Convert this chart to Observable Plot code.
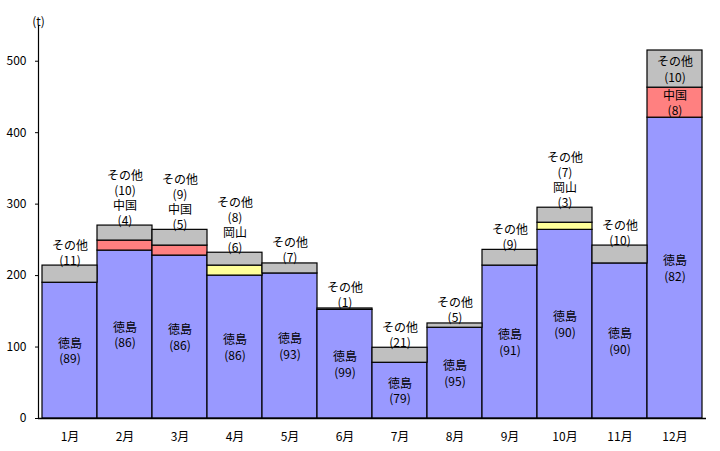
<!DOCTYPE html>
<html><head><meta charset="utf-8">
<script src="https://cdn.jsdelivr.net/npm/d3@7"></script>
<script src="https://cdn.jsdelivr.net/npm/@observablehq/plot@0.6"></script>
<style>
body{margin:0;background:#fff;}
svg{font-family:"Noto Sans CJK JP",sans-serif;}
</style>
</head><body><div id="chart"></div>
<script>
const months = ["1月","2月","3月","4月","5月","6月","7月","8月","9月","10月","11月","12月"];
const tokushima = [190, 235, 228, 200, 203, 152, 78, 127, 214, 264, 217, 421];
const okayama   = [0, 0, 0, 14, 0, 0, 0, 0, 0, 10, 0, 0];
const china     = [0, 14, 14, 0, 0, 0, 0, 0, 0, 0, 0, 42];
const other     = [24, 21, 22, 18, 14, 2, 21, 6, 22, 21, 25, 52];
const tokushimaPct = [89, 86, 86, 86, 93, 99, 79, 95, 91, 90, 90, 82];
const okayamaPct   = [null, null, null, 6, null, null, null, null, null, 3, null, null];
const chinaPct     = [null, 4, 5, null, null, null, null, null, null, null, null, 8];
const otherPct     = [11, 10, 9, 8, 7, 1, 21, 5, 9, 7, 10, 10];
const yTicks = [0, 100, 200, 300, 400, 500];

const seriesNames = ["徳島", "岡山", "中国", "その他"];
const seriesVals = [tokushima, okayama, china, other];
const seriesPct = [tokushimaPct, okayamaPct, chinaPct, otherPct];
const colors = ["#9999FF", "#FFFF99", "#FF8080", "#C0C0C0"];

const rows = [];
seriesNames.forEach((s, si) => {
  months.forEach((m, i) => {
    if (seriesVals[si][i] > 0) rows.push({month: m, series: s, value: seriesVals[si][i]});
  });
});

const insideLabels = [];
const aboveLabels = [];
months.forEach((m, i) => {
  let base = 0;
  const above = [];
  seriesNames.forEach((s, si) => {
    const v = seriesVals[si][i];
    const p = seriesPct[si][i];
    if (v > 0 && p != null) {
      const txt = s + "\n(" + p + ")";
      if (si === 0 || v >= 40) insideLabels.push({month: m, y: base + v / 2, text: txt});
      else above.unshift(txt);
    }
    base += v;
  });
  if (above.length) aboveLabels.push({month: m, y: base, text: above.join("\n")});
});

const chart = Plot.plot({
  width: 720,
  height: 451,
  marginLeft: 38,
  marginRight: 14,
  marginTop: 25,
  marginBottom: 33,
  style: {fontSize: "12px", fontFamily: "'Noto Sans CJK JP', sans-serif", color: "#000"},
  x: {domain: months, padding: 0, label: null},
  y: {domain: [0, 550], label: null},
  color: {domain: seriesNames, range: colors},
  marks: [
    Plot.barY(rows, Plot.stackY({x: "month", y: "value", fill: "series", stroke: "#000", strokeWidth: 1.2, inset: 0})),
    Plot.frame({anchor: "left", stroke: "#000", strokeWidth: 1.2}),
    Plot.ruleY([0], {stroke: "#000", strokeWidth: 1.5}),
    Plot.axisY({ticks: yTicks, tickSize: 3, tickPadding: 9, label: null, fontSize: 12}),
    Plot.axisX({tickSize: 0, tickPadding: 14, label: null, fontSize: 12}),
    Plot.text(insideLabels, {x: "month", y: "y", text: "text", lineAnchor: "middle", lineHeight: 1.3, fill: "#000", fontSize: 12}),
    Plot.text(aboveLabels, {x: "month", y: "y", text: "text", lineAnchor: "bottom", lineHeight: 1.25, dy: -1, fill: "#000", fontSize: 12}),
    Plot.text(["(t)"], {frameAnchor: "top-left", dy: -8, textAnchor: "middle", fill: "#000", fontSize: 12})
  ]
});
document.getElementById("chart").appendChild(chart);
</script>
</body></html>
